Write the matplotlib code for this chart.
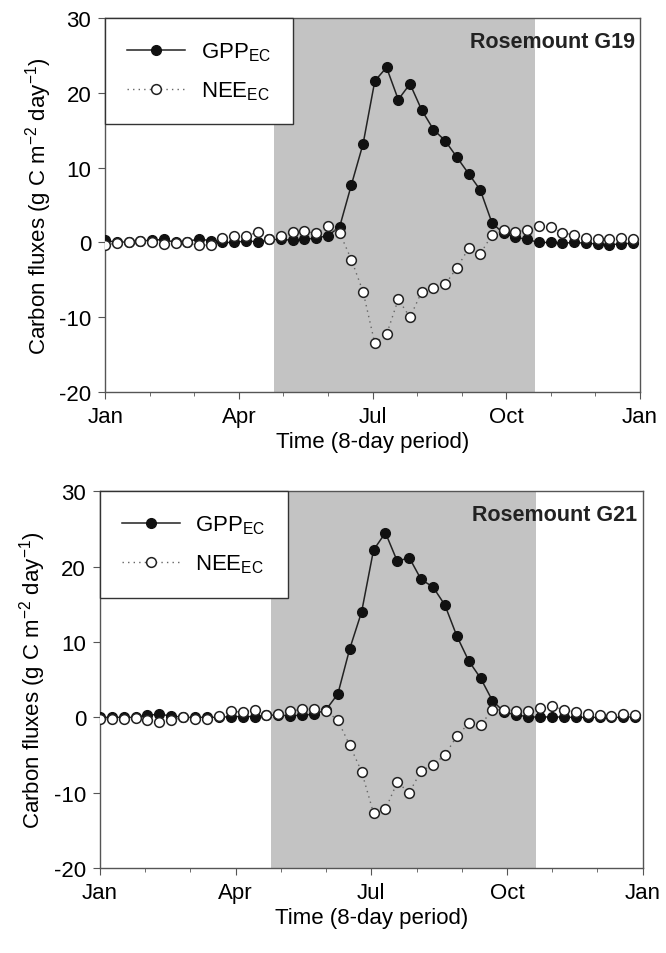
import matplotlib
matplotlib.use('Agg')
import matplotlib.pyplot as plt
import numpy as np

plt.rcParams['font.family'] = ['Liberation Sans', 'DejaVu Sans']
plt.rcParams['axes.unicode_minus'] = False
plt.rcParams['mathtext.default'] = 'regular'

# 8-day periods (day of year of period start)
period_doy = [8 * i for i in range(46)]

# growing season shading (day of year)
season_start = 115
season_end = 293

month_labels = ['Jan', 'Apr', 'Jul', 'Oct', 'Jan']

sites = ['Rosemount G19', 'Rosemount G21']

gpp_g19 = [0.3, 0.0, 0.1, 0.2, 0.3, 0.4, 0.0, 0.1, 0.5, 0.2,
           0.0, 0.0, 0.2, 0.1, 0.4, 0.4, 0.3, 0.4, 0.6, 0.9, 2.1,
           7.7, 13.2, 21.6, 23.4, 19.1, 21.2, 17.7, 15.1, 13.6, 11.4, 9.2, 7.0,
           2.6, 1.2, 0.7, 0.4, 0.0, 0.0, -0.1, 0.0, -0.1, -0.2, -0.3, -0.2, -0.1]
nee_g19 = [-0.3, -0.1, 0.1, 0.2, 0.1, -0.2, -0.1, 0.0, -0.4, -0.3,
           0.6, 0.8, 0.8, 1.4, 0.5, 0.8, 1.4, 1.5, 1.2, 2.2, 1.3,
           -2.3, -6.6, -13.5, -12.3, -7.6, -10.0, -6.6, -6.1, -5.6, -3.4, -0.8, -1.5,
           1.0, 1.6, 1.4, 1.7, 2.2, 2.1, 1.3, 1.0, 0.6, 0.5, 0.5, 0.6, 0.5]

gpp_g21 = [0.0, 0.0, 0.0, 0.0, 0.3, 0.4, 0.2, 0.0, 0.0, 0.0,
           0.0, 0.1, 0.1, 0.1, 0.3, 0.3, 0.2, 0.3, 0.4, 1.0,
           3.1, 9.1, 14.0, 22.2, 24.5, 20.7, 21.2, 18.3, 17.3, 14.9, 10.8, 7.5, 5.2,
           2.2, 0.7, 0.3, 0.1, 0.0, 0.1, 0.0, 0.0, 0.0, 0.0, 0.0, 0.0, 0.1]
nee_g21 = [-0.2, -0.2, -0.2, -0.1, -0.3, -0.6, -0.4, 0.0, -0.2, -0.2,
           0.2, 0.8, 0.7, 1.0, 0.3, 0.4, 0.8, 1.1, 1.1, 0.9,
           -0.4, -3.7, -7.2, -12.7, -12.2, -8.6, -10.0, -7.1, -6.3, -5.0, -2.5, -0.8, -1.0,
           1.0, 1.0, 0.9, 0.9, 1.3, 1.5, 1.0, 0.7, 0.5, 0.3, 0.2, 0.4, 0.3]

gpp_all = [gpp_g19, gpp_g21]
nee_all = [nee_g19, nee_g21]

fig = plt.figure(figsize=(6.66, 9.54), dpi=100)
# axes positions [left, bottom, width, height] in figure fraction
positions = [[0.158, 0.588, 0.803, 0.392],
             [0.150, 0.089, 0.815, 0.395]]

for k in range(2):
    ax = fig.add_axes(positions[k])
    ax.axvspan(season_start, season_end, color='#c3c3c3', lw=0, zorder=0)

    ax.plot(period_doy, gpp_all[k], color='#222222', lw=1.1, marker='o', ms=7,
            mfc='#111111', mec='#111111', label='GPP$_{EC}$', zorder=3)
    ax.plot(period_doy, nee_all[k], color='#666666', lw=1.0, ls=(0, (1, 3)), marker='o', ms=7,
            mfc='white', mec='#222222', mew=1.1, label='NEE$_{EC}$', zorder=4)

    ax.set_xlim(0, 365)
    ax.set_ylim(-20, 30)
    ax.set_yticks([-20, -10, 0, 10, 20, 30])
    ax.set_xticks(np.linspace(0, 365, 5))
    ax.set_xticklabels(month_labels)
    ax.set_xticks(np.linspace(0, 365, 13), minor=True)
    ax.tick_params(axis='both', which='major', labelsize=16, direction='out', length=5,
                   color='#555555', pad=5)
    ax.tick_params(axis='x', which='minor', direction='out', length=3, color='#555555')
    for s in ax.spines.values():
        s.set_color('#555555')
        s.set_linewidth(1.0)

    ax.set_xlabel('Time (8-day period)', fontsize=16, labelpad=3)
    ax.set_ylabel('Carbon fluxes (g C m$^{-2}$ day$^{-1}$)', fontsize=16, labelpad=4)

    ax.text(0.99, 0.965, sites[k], transform=ax.transAxes, ha='right', va='top',
            fontsize=15.5, fontweight='bold', color='#222222')

    leg = ax.legend(loc='upper left', fontsize=16, frameon=True, fancybox=False,
                    borderaxespad=0, borderpad=1.0, handlelength=2.6, handletextpad=0.7,
                    labelspacing=0.75)
    leg.get_frame().set_edgecolor('#333333')
    leg.get_frame().set_linewidth(1.0)
    leg.get_frame().set_alpha(1)

fig.savefig('out.png', dpi=100)
